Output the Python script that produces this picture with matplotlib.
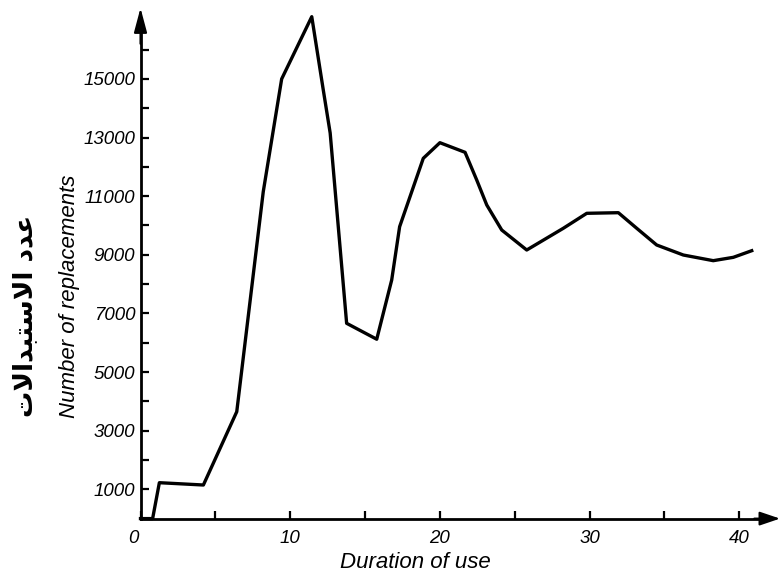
import matplotlib
matplotlib.use("Agg")
import matplotlib.pyplot as plt
import matplotlib.transforms as mtransforms
from matplotlib.ticker import FixedLocator

# ---- data ----
duration = [0, 0.81, 1.26, 4.2, 6.43, 8.2, 9.43, 11.44, 12.21, 12.67, 13.77,
            15.78, 16.78, 17.31, 18.89, 20.0, 21.68, 22.46, 23.13, 24.13,
            25.8, 28.24, 29.81, 31.92, 33.15, 34.48, 36.26, 38.26, 39.6, 40.83]
replacements = [0, 0, 1225, 1146, 3647, 11153, 15000, 17124, 14623, 13156, 6663,
                6120, 8140, 9959, 12292, 12825, 12497, 11552, 10700, 9846,
                9164, 9904, 10416, 10437, 9904, 9335, 8993, 8800, 8914, 9140]
x_major = [0, 10, 20, 30, 40]
x_minor = [5, 15, 25, 35]
y_major = [1000, 3000, 5000, 7000, 9000, 11000, 13000, 15000]
y_minor = [2000, 4000, 6000, 8000, 10000, 12000, 14000, 16000]
xlabel = "Duration of use"
ylabel = "Number of replacements"
# "عدد الاستبدالات" in Arabic presentation forms, visual order
ylabel_ar = "\uFE95\uFEFB\uFE8D\uFEAA\uFE92\uFE98\uFEB3\uFEFB\uFE8D \uFEA9\uFEAA\uFECB"

W, H = 781, 577
fig = plt.figure(figsize=(W / 100, H / 100), dpi=100)
x0_px, y0_px = 140.5, 518.6
px_per_x, px_per_1000 = 14.97, 29.31
ax = fig.add_axes([x0_px / W, (H - y0_px) / H, (W - x0_px) / W, y0_px / H])
ax.set_xlim(0, (W - x0_px) / px_per_x)
ax.set_ylim(0, y0_px / px_per_1000 * 1000)

ax.plot(duration, replacements, color="black", lw=2.4, solid_joinstyle="round",
        clip_on=False, zorder=3)

for s in ["top", "right"]:
    ax.spines[s].set_visible(False)
ax.spines["left"].set_linewidth(2.0)
ax.spines["bottom"].set_linewidth(2.0)
ax.spines["left"].set_bounds(0, 16900)
ax.spines["bottom"].set_bounds(0, 41.6)

# arrow heads
ax.annotate("", xy=(0, 17421), xytext=(0, 16200), annotation_clip=False,
            arrowprops=dict(arrowstyle="-|>,head_length=0.75,head_width=0.2",
                            mutation_scale=20, lw=1.5, color="black",
                            shrinkA=0, shrinkB=0))
ax.annotate("", xy=(42.72, 0), xytext=(41.0, 0), annotation_clip=False,
            arrowprops=dict(arrowstyle="-|>,head_length=0.62,head_width=0.21",
                            mutation_scale=20, lw=1.5, color="black",
                            shrinkA=0, shrinkB=0))

ax.xaxis.set_major_locator(FixedLocator(x_major))
ax.xaxis.set_minor_locator(FixedLocator(x_minor))
ax.yaxis.set_major_locator(FixedLocator(y_major))
ax.yaxis.set_minor_locator(FixedLocator(y_minor))
ax.set_xticklabels([str(v) for v in x_major])
ax.set_yticklabels([str(v) for v in y_major])

tick_family = ["Liberation Sans", "DejaVu Sans"]
ax.tick_params(axis="both", which="both", direction="in", length=6, width=1.6, color="black")
ax.tick_params(axis="x", which="major", pad=8.5)
ax.tick_params(axis="y", which="major", pad=3.8)
for lab in ax.get_xticklabels() + ax.get_yticklabels():
    lab.set_fontfamily(tick_family)
    lab.set_fontstyle("italic")
    lab.set_fontsize(13.5)

# the "0" label sits a little left of the origin in the reference
zero_lab = ax.get_xticklabels()[0]
zero_lab.set_transform(zero_lab.get_transform() +
                       mtransforms.ScaledTranslation(-7 / 100, 0, fig.dpi_scale_trans))

label_font = dict(family=["Liberation Sans", "DejaVu Sans"], style="italic", size=16)
fig.text(415 / W, 1 - 562 / H, xlabel, ha="center", va="center", **label_font)
fig.text(70 / W, 1 - 296 / H, ylabel, ha="center", va="center", rotation=90, **label_font)
fig.text(25 / W, 1 - 316 / H, ylabel_ar, ha="center", va="center", rotation=90,
         family=["DejaVu Sans"], weight="bold", size=19)

fig.savefig("out.png", dpi=100)
